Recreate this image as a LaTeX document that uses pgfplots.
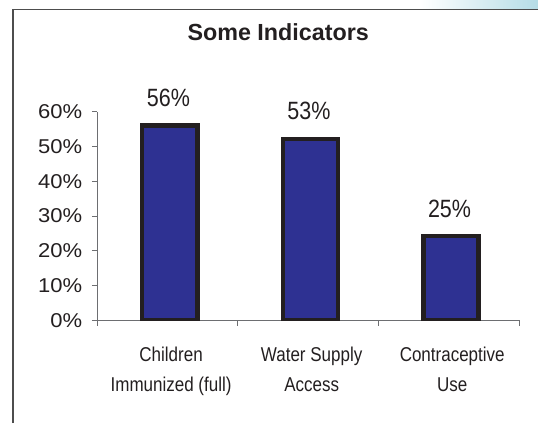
\documentclass[border=0pt]{standalone}
\usepackage{fontspec}
\setmainfont{Liberation Sans}
\newfontfamily\tickfont{Liberation Sans}[FakeStretch=1.1]
\newfontfamily\datafont{Liberation Sans}[FakeStretch=0.86]
\newfontfamily\catfont{Liberation Sans}[FakeStretch=0.85]
\usepackage{pgfplots}
\pgfplotsset{compat=1.18}
\definecolor{barblue}{HTML}{2E3192}
\definecolor{barline}{HTML}{231F20}
\definecolor{axisgray}{HTML}{6D6E71}
\definecolor{framegray}{HTML}{4D4D4D}
\definecolor{txt}{HTML}{231F20}
\definecolor{tint}{HTML}{B5DCE6}

\begin{document}
\begin{tikzpicture}[x=1pt,y=1pt]
\useasboundingbox (0,0) rectangle (538,423);
% faint tint strip and the slide frame
\shade[left color=white, right color=tint] (420,414.5) rectangle (538,423);
\draw[framegray, line width=1.4pt] (12.8,0) -- (12.8,413.2) -- (538,413.2);
\begin{axis}[
  at={(97.3pt,102.5pt)}, anchor=south west,
  scale only axis, width=421.7pt, height=208.8pt,
  xmin=-0.5, xmax=2.5, ymin=0, ymax=60,
  axis x line*=bottom, axis y line*=left,
  axis line style={axisgray, line width=1pt},
  ytick={0,10,...,60},
  yticklabels={0\%,10\%,20\%,30\%,40\%,50\%,60\%},
  xtick={0,1,2},
  xticklabels={Children\\Immunized (full), Water Supply\\Access, Contraceptive\\Use},
  minor xtick={-0.5,0.5,1.5,2.5},
  tick align=outside,
  major tick length=5.5pt, minor tick length=5.5pt,
  major x tick style={draw=none},
  ytick style={axisgray, line width=1pt},
  minor tick style={axisgray, line width=1pt},
  xticklabel style={font=\catfont\fontsize{20}{30.3}\selectfont, align=center,
    text=txt, inner sep=0pt, yshift=-20.7pt, xshift=3.5pt},
  yticklabel style={font=\tickfont\fontsize{20}{24}\selectfont, text=txt,
    inner sep=0pt, xshift=-9.5pt},
  ybar, bar width=55.2pt, bar shift=2.3pt,
  point meta=explicit symbolic,
  nodes near coords,
  nodes near coords style={font=\datafont\fontsize{25}{25}\selectfont, text=txt,
    anchor=center, yshift=27.8pt, xshift=-1.5pt},
  title={Some Indicators},
  title style={font=\bfseries\fontsize{23.3}{28}\selectfont, text=txt,
    at={(axis description cs:0.429,1.311)}, anchor=base, yshift=0pt},
]
\addplot[fill=barblue, draw=barline, line width=4.3pt]
  coordinates {(0,56) [56\%] (1,52.2) [53\%] (2,24.2) [25\%]};
\end{axis}
\end{tikzpicture}
\end{document}
